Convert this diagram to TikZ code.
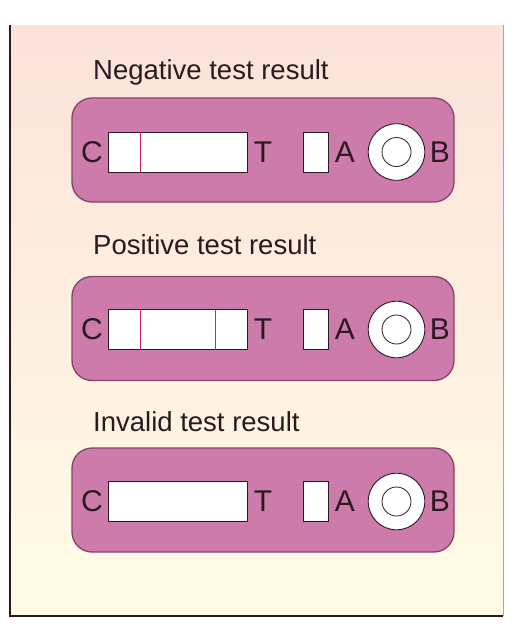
\documentclass[tikz,border=0pt]{standalone}
\usepackage{fontspec}
\setmainfont{Liberation Sans}
\definecolor{bgtop}{HTML}{FCE2DA}
\definecolor{bgbot}{HTML}{FFFCE6}
\definecolor{cardfill}{HTML}{CD7BAA}
\definecolor{carddraw}{HTML}{834468}
\definecolor{inkdark}{HTML}{2A1A20}
\definecolor{lineband}{HTML}{D0206A}
\tikzset{
  card/.style={draw=carddraw, line width=1.3pt, fill=cardfill, rounded corners=20pt,
    minimum width=382pt, minimum height=104pt, inner sep=0pt},
  stripbox/.style={draw=inkdark, line width=0.8pt, fill=white, minimum width=139pt,
    minimum height=40pt, inner sep=0pt},
  abox/.style={draw=inkdark, line width=0.8pt, fill=white, minimum width=25pt,
    minimum height=40pt, inner sep=0pt},
  wellout/.style={circle, draw=inkdark, line width=0.9pt, fill=white, minimum size=56.6pt, inner sep=0pt},
  wellin/.style={circle, draw=inkdark, line width=0.8pt, fill=white, minimum size=29pt, inner sep=0pt},
  lettr/.style={text=inkdark, font=\fontsize{30}{32}\selectfont, inner sep=0pt},
  titletext/.style={text=inkdark, font=\fontsize{27.5}{30}\selectfont, anchor=base west, inner sep=0pt},
  band/.style={draw=lineband, line width=1pt}
}
\begin{document}
\begin{tikzpicture}[x=1pt,y=-1pt]
\useasboundingbox (0,0) rectangle (514,624);
\fill[white] (0,0) rectangle (514,624);
\shade[top color=bgtop, bottom color=bgbot] (10,25) rectangle (503,616);
\draw[inkdark, line width=1.5pt] (10,25) -- (10,616) -- (503,616);
\draw[gray!70, line width=1pt] (503,25) -- (503,616);

% ---- card 1: negative
\node[titletext] (t1) at (93,79) {Negative test result};
\node[card] (card1) at (263,150) {};
\node[stripbox] (s1) at (177.5,152) {};
\draw[band] (140,132) -- (140,172);
\node[abox] (a1) at (315.5,152) {};
\node[wellout] (w1) at (396.5,152) {};
\node[wellin] (wi1) at (396.5,152) {};
\node[lettr] (c1) at (92,152) {C};
\node[lettr] (tt1) at (263,152) {T};
\node[lettr] (aa1) at (345,152) {A};
\node[lettr] (b1) at (440,152) {B};

% ---- card 2: positive
\node[titletext] (t2) at (93,254) {Positive test result};
\node[card] (card2) at (263,328.5) {};
\node[stripbox] (s2) at (177.5,329.5) {};
\draw[band] (140,309.5) -- (140,349.5);
\draw[band] (215,309.5) -- (215,349.5);
\node[abox] (a2) at (315.5,329.5) {};
\node[wellout] (w2) at (396.5,329.5) {};
\node[wellin] (wi2) at (396.5,329.5) {};
\node[lettr] (c2) at (92,329.5) {C};
\node[lettr] (tt2) at (263,329.5) {T};
\node[lettr] (aa2) at (345,329.5) {A};
\node[lettr] (b2) at (440,329.5) {B};

% ---- card 3: invalid
\node[titletext] (t3) at (93,431) {Invalid test result};
\node[card] (card3) at (263,500) {};
\node[stripbox] (s3) at (177.5,501.5) {};
\node[abox] (a3) at (315.5,501.5) {};
\node[wellout] (w3) at (396.5,501.5) {};
\node[wellin] (wi3) at (396.5,501.5) {};
\node[lettr] (c3) at (92,501.5) {C};
\node[lettr] (tt3) at (263,501.5) {T};
\node[lettr] (aa3) at (345,501.5) {A};
\node[lettr] (b3) at (440,501.5) {B};
\end{tikzpicture}
\end{document}
